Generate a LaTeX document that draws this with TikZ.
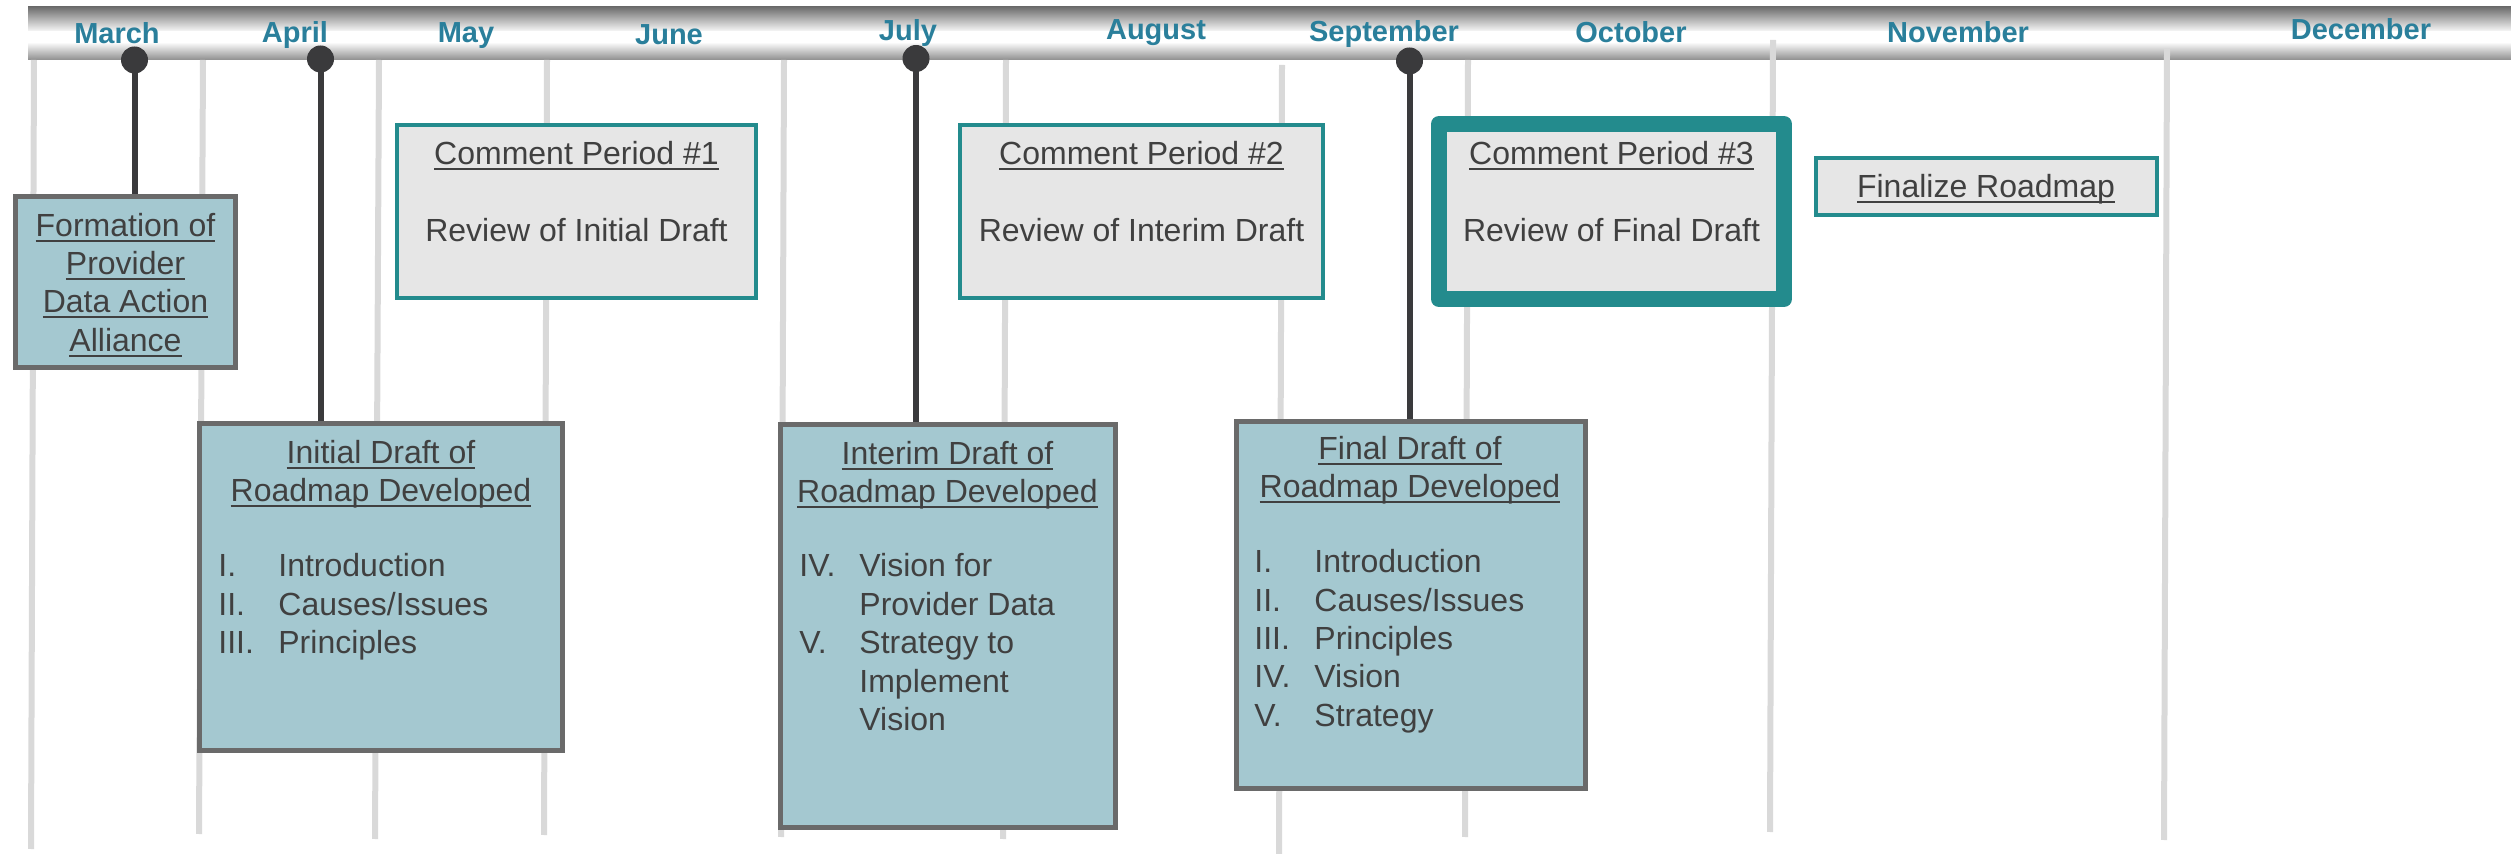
\documentclass[tikz,border=0pt]{standalone}
\usepackage{fontspec}
\setmainfont{Liberation Sans}
\newcommand\myul[1]{\setbox0=\hbox{#1}\rlap{\rule[-2.7pt]{\wd0}{1pt}}\box0}
\definecolor{monthc}{HTML}{2A7F9B}
\definecolor{txtc}{HTML}{404040}
\definecolor{boxfill}{HTML}{A4C8D0}
\definecolor{boxborder}{HTML}{6A6A6A}
\definecolor{cfill}{HTML}{E6E6E6}
\definecolor{tealc}{HTML}{238B8D}
\definecolor{milec}{HTML}{3A3A3C}
\definecolor{gridc}{HTML}{D9D9D9}
\definecolor{bartop}{HTML}{6E6E6E}
\definecolor{barbot}{HTML}{8E8E8E}
\begin{document}
\begin{tikzpicture}[x=0.5pt,y=-0.5pt,
  month/.style={font=\fontsize{14.5}{17}\selectfont\bfseries, text=monthc, anchor=base, inner sep=0pt},
  txt/.style={font=\fontsize{16}{19}\selectfont, text=txtc, anchor=base, inner sep=0pt},
  txtl/.style={txt, anchor=base west},
  bluebox/.style={draw=boxborder, line width=2.5pt, fill=boxfill, inner sep=0pt, outer sep=0pt},
  boxedge/.style={draw=boxborder, line width=2.5pt},
  cbox/.style={draw=tealc, line width=2pt, fill=cfill, inner sep=0pt},
  gridline/.style={draw=gridc, line width=3pt},
  stem/.style={draw=milec, line width=3pt},
  mile/.style={circle, fill=milec, minimum size=13.5pt, inner sep=0pt}]
\useasboundingbox (0,0) rectangle (2511,854);
% timeline bar
\shade[top color=bartop, bottom color=white] (28,7) rectangle (2511,32.5);
\fill[white] (28,31.5) rectangle (2511,42.5);
\shade[top color=white, bottom color=barbot] (28,42) rectangle (2511,60);
% grid lines
\draw[gridline] (34,60) -- (31,849);
\draw[gridline] (203,60) -- (199,834);
\draw[gridline] (379,60) -- (375,839);
\draw[gridline] (547,60) -- (544,835);
\draw[gridline] (784,60) -- (781,837);
\draw[gridline] (1006,60) -- (1003,839);
\draw[gridline] (1282,65) -- (1279,854);
\draw[gridline] (1468,60) -- (1465,837);
\draw[gridline] (1773,40) -- (1770,832);
\draw[gridline] (2167,49) -- (2164,840);
% month labels
\node[month] (mar) at (117,44) {March};
\node[month] (apr) at (295,43) {April};
\node[month] (may) at (466,43) {May};
\node[month] (jun) at (669,45) {June};
\node[month] (jul) at (908,41) {July};
\node[month] (aug) at (1156,40) {August};
\node[month] (sep) at (1384,42) {September};
\node[month] (oct) at (1631,43) {October};
\node[month] (nov) at (1958,43) {November};
\node[month] (dec) at (2361,40) {December};
% boxes
\node[bluebox, minimum width=110pt, minimum height=85.5pt] (formation) at (125.5,282) {};
\node[cbox, minimum width=179.5pt, minimum height=86.5pt] (cp1) at (576.5,211.5) {};
\node[cbox, minimum width=181.5pt, minimum height=86.5pt] (cp2) at (1141.5,211.5) {};
\node[cbox, line width=8pt, line join=round, minimum width=172.5pt, minimum height=87.5pt] (cp3) at (1611.5,211.5) {};
\node[cbox, minimum width=170.5pt, minimum height=28.5pt] (fin) at (1986.5,186.5) {};
\node[bluebox, minimum width=181.5pt, minimum height=163.5pt] (initial) at (381,587.5) {};
\node[bluebox, minimum width=167.75pt, minimum height=201.5pt] (interim) at (947.75,626) {};
\node[bluebox, minimum width=174.5pt, minimum height=183.5pt] (final) at (1411,605) {};
% milestones
\coordinate (c1) at (134.5,60);
\coordinate (c2) at (320.5,59);
\coordinate (c3) at (916,58.5);
\coordinate (c4) at (1409.5,61);
\draw[stem] (c1) -- (c1 |- formation.north);
\draw[stem] (c2) -- (c2 |- initial.north);
\draw[stem] (c3) -- (c3 |- interim.north);
\draw[stem] (c4) -- (c4 |- final.north);
\node[mile] (m1) at (c1) {};
\node[mile] (m2) at (c2) {};
\node[mile] (m3) at (c3) {};
\node[mile] (m4) at (c4) {};
% redraw box borders over stem ends
\draw[boxedge] (formation.north west) rectangle (formation.south east);
\draw[boxedge] (initial.north west) rectangle (initial.south east);
\draw[boxedge] (interim.north west) rectangle (interim.south east);
\draw[boxedge] (final.north west) rectangle (final.south east);
% texts: formation
\node[txt] (f1) at (125.5,237) {\myul{Formation of}};
\node[txt] (f2) at (125.5,275) {\myul{Provider}};
\node[txt] (f3) at (125.5,313) {\myul{Data Action}};
\node[txt] (f4) at (125.5,352) {\myul{Alliance}};
% comment periods
\node[txt] (cp1a) at (576.5,165) {\myul{Comment Period \#1}};
\node[txt] (cp1b) at (576.5,242) {Review of Initial Draft};
\node[txt] (cp2a) at (1141.5,165) {\myul{Comment Period \#2}};
\node[txt] (cp2b) at (1141.5,242) {Review of Interim Draft};
\node[txt] (cp3a) at (1611.5,165) {\myul{Comment Period \#3}};
\node[txt] (cp3b) at (1611.5,242) {Review of Final Draft};
\node[txt] (fina) at (1986,198) {\myul{Finalize Roadmap}};
% initial draft
\node[txt] (i1) at (381,464) {\myul{Initial Draft of}};
\node[txt] (i2) at (381,502) {\myul{Roadmap Developed}};
\node[txtl] (in1) at (218,577) {I.};
\node[txtl] (it1) at (278,577) {Introduction};
\node[txtl] (in2) at (218,616) {II.};
\node[txtl] (it2) at (278,616) {Causes/Issues};
\node[txtl] (in3) at (218,654) {III.};
\node[txtl] (it3) at (278,654) {Principles};
% interim draft
\node[txt] (j1) at (947.5,465) {\myul{Interim Draft of}};
\node[txt] (j2) at (947.5,503) {\myul{Roadmap Developed}};
\node[txtl] (jn1) at (799,577) {IV.};
\node[txtl] (jt1) at (859,577) {Vision for};
\node[txtl] (jt2) at (859,616) {Provider Data};
\node[txtl] (jn2) at (799,654) {V.};
\node[txtl] (jt3) at (859,654) {Strategy to};
\node[txtl] (jt4) at (859,693) {Implement};
\node[txtl] (jt5) at (859,731) {Vision};
% final draft
\node[txt] (k1) at (1410,460) {\myul{Final Draft of}};
\node[txt] (k2) at (1410,498) {\myul{Roadmap Developed}};
\node[txtl] (kn1) at (1254,573) {I.};
\node[txtl] (kt1) at (1314,573) {Introduction};
\node[txtl] (kn2) at (1254,612) {II.};
\node[txtl] (kt2) at (1314,612) {Causes/Issues};
\node[txtl] (kn3) at (1254,650) {III.};
\node[txtl] (kt3) at (1314,650) {Principles};
\node[txtl] (kn4) at (1254,688) {IV.};
\node[txtl] (kt4) at (1314,688) {Vision};
\node[txtl] (kn5) at (1254,727) {V.};
\node[txtl] (kt5) at (1314,727) {Strategy};
\end{tikzpicture}
\end{document}
